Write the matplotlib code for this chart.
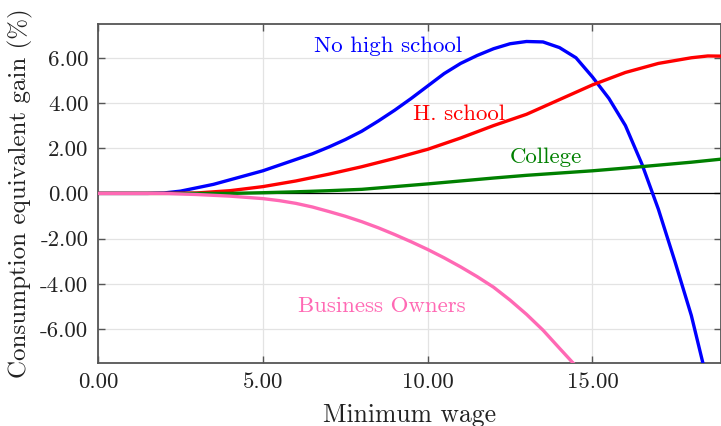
import numpy as np
import matplotlib
matplotlib.use("Agg")
import matplotlib.pyplot as plt

plt.rcParams["font.family"] = ["cmr10", "DejaVu Serif"]
plt.rcParams["mathtext.fontset"] = "cm"
plt.rcParams["axes.unicode_minus"] = False

# Welfare gains by group as the minimum wage rises
wage_nohs = [0, 1, 1.5, 2, 2.5, 3, 3.5, 4, 4.5, 5, 5.5, 6, 6.5, 7, 7.5, 8, 8.5, 9, 9.5, 10,
             10.5, 11, 11.5, 12, 12.5, 13, 13.5, 14, 14.5, 15, 15.5, 16, 16.5, 17, 17.5, 18, 18.4]
gain_nohs = [0, 0, 0, 0.02, 0.1, 0.25, 0.4, 0.6, 0.8, 1.0, 1.25, 1.5, 1.75, 2.05, 2.38, 2.75, 3.2,
             3.68, 4.2, 4.75, 5.3, 5.75, 6.1, 6.4, 6.62, 6.72, 6.7, 6.45, 6.0, 5.15, 4.2, 3.0, 1.3,
             -0.7, -3.0, -5.4, -7.8]

wage_hs = [0, 2, 3, 4, 5, 6, 7, 8, 9, 10, 11, 12, 13, 14, 15, 16, 17, 18, 18.5, 19]
gain_hs = [0, 0, 0.02, 0.12, 0.3, 0.55, 0.85, 1.18, 1.55, 1.95, 2.45, 3.0, 3.5, 4.15, 4.8,
           5.35, 5.75, 6.0, 6.08, 6.07]

wage_col = [0, 4, 5, 6, 7, 8, 9, 10, 11, 12, 13, 14, 15, 16, 17, 18, 19]
gain_col = [0, 0, 0.03, 0.07, 0.12, 0.18, 0.3, 0.42, 0.55, 0.68, 0.8, 0.9, 1.0, 1.12, 1.25,
            1.38, 1.53]

wage_own = [0, 2, 3, 4, 5, 5.5, 6, 6.5, 7, 7.5, 8, 8.5, 9, 9.5, 10, 10.5, 11, 11.5, 12, 12.5,
            13, 13.5, 14, 14.6]
gain_own = [0, 0, -0.05, -0.12, -0.23, -0.32, -0.44, -0.6, -0.8, -1.01, -1.25, -1.52, -1.82,
            -2.14, -2.48, -2.85, -3.25, -3.68, -4.15, -4.72, -5.35, -6.05, -6.85, -7.8]

xticks = [0, 5, 10, 15]
yticks = [-6, -4, -2, 0, 2, 4, 6]

fig = plt.figure(figsize=(7.21, 4.26), dpi=100)
ax = fig.add_axes([0.136, 0.148, 0.864, 0.796])

lw = 2.4
ax.plot(wage_nohs, gain_nohs, color="#0000ff", lw=lw, zorder=3)
ax.plot(wage_hs, gain_hs, color="#ff0000", lw=lw, zorder=3)
ax.plot(wage_col, gain_col, color="#008000", lw=lw, zorder=3)
ax.plot(wage_own, gain_own, color="#ff69b4", lw=lw, zorder=3)
ax.axhline(0, color="black", lw=0.9, zorder=2)

fs = 16.5
ax.text(8.8, 6.5, "No high school", color="#0000ff", fontsize=fs, ha="center", va="center")
ax.text(10.95, 3.5, "H. school", color="#ff0000", fontsize=fs, ha="center", va="center")
ax.text(13.6, 1.6, "College", color="#008000", fontsize=fs, ha="center", va="center")
ax.text(8.6, -5.0, "Business Owners", color="#ff69b4", fontsize=fs, ha="center", va="center")

ax.set_xlim(0, 18.9)
ax.set_ylim(-7.5, 7.5)
ax.set_xticks(xticks)
ax.set_xticklabels([f"{v:.2f}" for v in xticks])
ax.set_yticks(yticks)
ax.set_yticklabels([f"{v:.2f}" for v in yticks])
ax.grid(True, color="#e3e3e3", lw=0.9, zorder=0)
ax.set_axisbelow(True)

ax.tick_params(direction="in", length=5, width=1.0, color="#555555", labelsize=fs,
               labelcolor="#222222", top=True, right=True, pad=7)
for s in ax.spines.values():
    s.set_color("#555555")
    s.set_linewidth(1.3)

ax.set_xlabel("Minimum wage", fontsize=18.5, color="#222222", labelpad=8)
ax.set_ylabel("Consumption equivalent gain (%)", fontsize=18, color="#222222", labelpad=5)

fig.savefig("out.png", dpi=100)
